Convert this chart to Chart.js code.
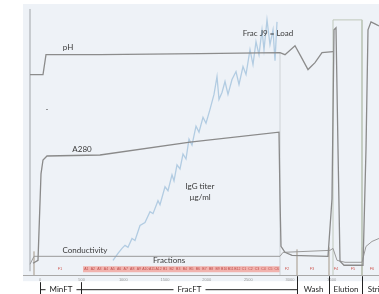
<!DOCTYPE html>
<html>
<head>
<meta charset="utf-8">
<script src="https://cdn.jsdelivr.net/npm/chart.js@4.4.1/dist/chart.umd.min.js"></script>
<style>
  html, body { margin: 0; padding: 0; background: #fff; }
  #wrap { width: 379px; height: 294px; position: relative; }
</style>
</head>
<body>
<div id="wrap"><canvas id="chromChart"></canvas></div>
<script>
// volume in mL on x, every signal in arbitrary units (0-136) on y
const xTicks = [0, 500, 1000, 1500, 2000, 2500, 3000, 3500];

const phX = [-120, 36, 72, 720, 1920, 2880, 2940, 3060, 3132, 3216, 3300, 3384, 3516];
const phY = [101, 101, 111, 111, 111.5, 112, 111, 115.5, 110, 103.5, 107, 112, 112.5];

const a280X = [-84, -24, 12, 36, 84, 720, 1800, 2868, 2880, 2892, 2940, 3024, 3456, 3504, 3528, 3552, 3576, 3600, 3648, 3876, 3912, 3936, 3972, 4020, 4068];
const a280Y = [6, 7.5, 51, 58, 60, 60.5, 67, 72, 38.5, 14.5, 11.5, 10, 9.5, 38.5, 123.5, 124.5, 63.5, 7, 5, 5, 63.5, 123.5, 127.5, 126.5, 125.5];

const condX = [-120, -72, 2880, 2916, 3480, 3516, 3564, 3660, 3864, 3912, 3984, 4068];
const condY = [5.5, 9.5, 9.5, 11.5, 12.5, 13.5, 7.5, 6.5, 6.5, 14.5, 17, 18.5];

const titerX = [876, 936, 984, 1020, 1056, 1104, 1140, 1200, 1260, 1320, 1356, 1416, 1440, 1500, 1536, 1584, 1608, 1644, 1680, 1716, 1752, 1788, 1824, 1872, 1908, 1956, 1992, 2040, 2088, 2124, 2148, 2184, 2220, 2256, 2304, 2352, 2388, 2436, 2472, 2520, 2556, 2592, 2628, 2664, 2688, 2724, 2760, 2796, 2820, 2844];
const titerY = [7.5, 11, 13.5, 15, 14, 18.5, 17.5, 25, 26.5, 32, 31, 37.5, 35.5, 44.5, 42.5, 50.5, 47.5, 55.5, 53.5, 61, 58.5, 68.5, 65.5, 75, 72, 79.5, 76.5, 83.5, 91, 100, 88.5, 92, 97.5, 91, 98.5, 102.5, 96, 105, 101, 113.5, 106, 117.5, 111, 123.5, 113.5, 128.5, 116, 123.5, 108, 127.5];

const elutionBoxX = [3516, 3516, 3864, 3864];
const elutionBoxY = [0, 128.5, 128.5, 0];

const loadEdgeX = [2880, 2880];
const loadEdgeY = [0, 112];

const startEdgeX = [-120, -120];
const startEdgeY = [2, 134];

const fracMarkX = [-72, 3084, 3468, 3864];
const fracMarkTop = [12, 13, 14, 14];

const bandStart = 516;
const bandEnd = 2880;
const bandTop = 4.5;
const bandBottom = 1.5;
const bandLabels = ['A1', 'A2', 'A3', 'A4', 'A5', 'A6', 'A7', 'A8', 'A9', 'A10', 'A11', 'A12',
  'B1', 'B2', 'B3', 'B4', 'B5', 'B6', 'B7', 'B8', 'B9', 'B10', 'B11', 'B12',
  'C1', 'C2', 'C3', 'C4', 'C5', 'C6'];

const sideFracX = [240, 2964, 3264, 3552, 3756, 3984];
const sideFracLabels = ['F1', 'F2', 'F3', 'F4', 'F5', 'F6'];

const phaseNames = ['MinFT', 'FracFT', 'Wash', 'Elution', 'Strip'];
const phaseStarts = [0, 492, 3084, 3468, 3864];
const phaseEnds = [492, 3084, 3468, 3864, 4190];
const phaseBracket = [true, true, false, false, false];

const traceLabels = [
  { text: 'pH', x: 336, y: 114.5 },
  { text: 'A280', x: 504, y: 63.5 },
  { text: 'Frac J9 = Load', x: 2736, y: 121.5 },
  { text: 'IgG titer', x: 1920, y: 44.5 },
  { text: 'µg/ml', x: 1920, y: 39 },
  { text: 'Conductivity', x: 540, y: 12.5 },
  { text: 'Fractions', x: 1548, y: 7.5 },
  { text: '-', x: 84, y: 83.5 }
];

function zip(xs, ys) {
  return xs.map((x, i) => ({ x: x, y: ys[i] }));
}

function line(label, xs, ys, color, width) {
  const ds = {
    label: label,
    borderColor: color,
    borderWidth: width,
    pointRadius: 0,
    fill: false,
    tension: 0
  };
  ds.data = zip(xs, ys);
  return ds;
}

// marker ticks separated by gaps
const markPoints = [];
fracMarkX.forEach((x, i) => {
  markPoints.push({ x: x, y: 0 }, { x: x, y: fracMarkTop[i] }, { x: x + 1, y: null });
});

const marks = { label: 'Marks', borderColor: '#a39787', borderWidth: 1, pointRadius: 0, spanGaps: false };
marks.data = markPoints;

const band = { label: 'Band', borderWidth: 0, pointRadius: 0, backgroundColor: '#f1b3ae', fill: '+1' };
band.data = zip([bandStart, bandEnd], [bandTop, bandTop]);

const bandBase = { label: 'Band base', borderWidth: 0, pointRadius: 0, fill: false };
bandBase.data = zip([bandStart, bandEnd], [bandBottom, bandBottom]);

const backdrop = {
  id: 'backdrop',
  beforeDraw(chart) {
    const { ctx, chartArea } = chart;
    ctx.save();
    ctx.fillStyle = '#ffffff';
    ctx.fillRect(0, 0, chart.width, chart.height);
    ctx.fillStyle = '#eef2f7';
    ctx.fillRect(chartArea.left, chartArea.top - 1, chartArea.right - chartArea.left, chartArea.bottom - chartArea.top + 7);
    ctx.restore();
  }
};

const annotations = {
  id: 'annotations',
  afterDatasetsDraw(chart) {
    const { ctx, chartArea } = chart;
    const xs = chart.scales.x;
    const ys = chart.scales.y;
    ctx.save();

    // tiny fraction names inside the pink band
    ctx.fillStyle = '#c0504d';
    ctx.font = '3.5px "Liberation Sans"';
    ctx.textAlign = 'center';
    ctx.textBaseline = 'middle';
    const step = (bandEnd - bandStart) / bandLabels.length;
    const bandMid = ys.getPixelForValue((bandTop + bandBottom) / 2);
    bandLabels.forEach((t, i) => {
      ctx.fillText(t, xs.getPixelForValue(bandStart + step * (i + 0.5)), bandMid);
    });
    ctx.fillStyle = '#d0605a';
    ctx.font = '4px "Liberation Sans"';
    sideFracLabels.forEach((t, i) => {
      ctx.fillText(t, xs.getPixelForValue(sideFracX[i]), bandMid);
    });

    // trace names
    ctx.fillStyle = '#3a3a3a';
    ctx.font = '8px Lato';
    traceLabels.forEach(l => {
      ctx.fillText(l.text, xs.getPixelForValue(l.x), ys.getPixelForValue(l.y));
    });

    // run phases under the axis
    const by = chartArea.bottom + 14;
    ctx.strokeStyle = '#222';
    ctx.lineWidth = 1;
    ctx.font = '8px Lato';
    ctx.fillStyle = '#222';
    phaseNames.forEach((name, i) => {
      const x0 = Math.round(xs.getPixelForValue(phaseStarts[i])) + 0.5;
      const x1 = Math.round(xs.getPixelForValue(phaseEnds[i])) + 0.5;
      const mid = (x0 + x1) / 2;
      const top = i < 2 ? chartArea.bottom + 7 : chartArea.bottom + 1;
      ctx.beginPath();
      ctx.moveTo(x0, top);
      ctx.lineTo(x0, chart.height);
      ctx.stroke();
      ctx.fillText(name, mid, by);
      if (phaseBracket[i]) {
        const w = ctx.measureText(name).width / 2 + 4;
        ctx.beginPath();
        ctx.moveTo(x0, by + 0.5);
        ctx.lineTo(mid - w, by + 0.5);
        ctx.moveTo(mid + w, by + 0.5);
        ctx.lineTo(x1, by + 0.5);
        ctx.stroke();
      }
    });
    ctx.restore();
  }
};

const config = {
  type: 'line',
  options: {
    responsive: true,
    maintainAspectRatio: false,
    animation: false,
    layout: { padding: { left: 23, right: 0, top: 5, bottom: 10 } },
    plugins: {
      legend: { display: false },
      tooltip: { enabled: false }
    },
    scales: {
      x: {
        type: 'linear',
        min: -204,
        max: 4068,
        grid: { display: false, drawTicks: false },
        border: { display: true, color: '#a8a8a8' },
        afterBuildTicks: s => { s.ticks = xTicks.map(v => ({ value: v })); },
        ticks: {
          autoSkip: false,
          maxRotation: 0,
          padding: 2,
          color: '#9a9a9a',
          font: { size: 4, family: 'Liberation Sans' },
          callback: v => String(v)
        }
      },
      y: {
        display: false,
        min: 0,
        max: 136
      }
    }
  },
  plugins: [backdrop, annotations]
};
config.data = {
  datasets: [
    line('pH', phX, phY, '#8c8c8c', 1.3),
    line('A280', a280X, a280Y, '#8a8a8a', 1.3),
    line('Conductivity', condX, condY, '#9a9a9a', 1),
    line('IgG titer', titerX, titerY, '#b2cce2', 1.3),
    line('Elution', elutionBoxX, elutionBoxY, '#bfc8bb', 1),
    line('Load edge', loadEdgeX, loadEdgeY, '#cdd2d6', 1),
    line('Start', startEdgeX, startEdgeY, '#a0a4a8', 1),
    marks,
    band,
    bandBase
  ]
};

new Chart(document.getElementById('chromChart'), config);
</script>
</body>
</html>
